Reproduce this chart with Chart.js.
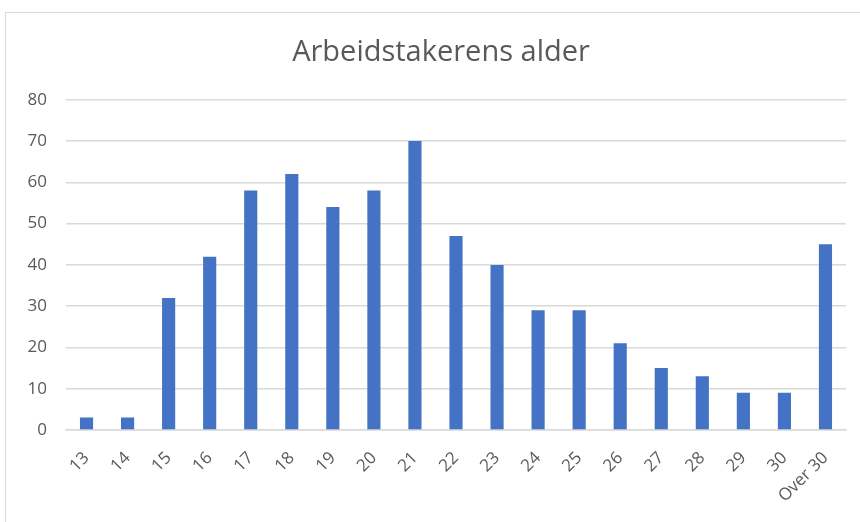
<!DOCTYPE html>
<html>
<head>
<meta charset="utf-8">
<script src="https://cdn.jsdelivr.net/npm/chart.js@4/dist/chart.umd.min.js"></script>
<style>
  body { margin: 0; background: #fff; }
  #wrap { position: relative; width: 860px; height: 522px; }
  #frame { position: absolute; left: 5px; top: 12px; width: 860px; height: 530px; border: 1px solid #d9d9d9; box-sizing: border-box; }
  canvas { position: absolute; left: 0; top: 0; }
</style>
</head>
<body>
<div id="wrap">
  <div id="frame"></div>
  <canvas id="ageChart" width="860" height="522"></canvas>
</div>
<script>
// alder-kategorier og antall
const ages = ['13', '14', '15', '16', '17', '18', '19', '20', '21', '22', '23', '24', '25', '26', '27', '28', '29', '30', 'Over 30'];
const counts = [3, 3, 32, 42, 58, 62, 54, 58, 70, 47, 40, 29, 29, 21, 15, 13, 9, 9, 45];
const yTicks = [0, 10, 20, 30, 40, 50, 60, 70, 80];

const textColor = '#595959';
const gridColor = '#d9d9d9';

// tittelen står midt på hele diagramrammen (som går litt utenfor bildet)
const titleShift = {
  id: 'titleShift',
  afterLayout(chart) {
    if (chart.titleBlock) {
      chart.titleBlock.left = 22;
      chart.titleBlock.right = 860;
    }
  }
};

new Chart(document.getElementById('ageChart'), {
  type: 'bar',
  data: {
    labels: ages,
    datasets: [{
      label: 'Antall',
      data: counts,
      backgroundColor: '#4472c4',
      barPercentage: 0.32,
      categoryPercentage: 1
    }]
  },
  options: {
    responsive: false,
    animation: false,
    layout: { padding: { left: 6, right: 14, top: 0, bottom: 10 } },
    plugins: {
      legend: { display: false },
      tooltip: { enabled: false },
      title: {
        display: true,
        text: 'Arbeidstakerens alder',
        color: textColor,
        font: { family: 'Open Sans', size: 29, weight: '400' },
        padding: { top: 35, bottom: 30 }
      }
    },
    scales: {
      x: {
        grid: { display: false },
        border: { color: gridColor, width: 1.5 },
        ticks: {
          color: textColor,
          font: { family: 'Open Sans', size: 17 },
          minRotation: 45,
          maxRotation: 45,
          padding: 10
        },
        afterFit: (scale) => { scale.height = 82; }
      },
      y: {
        min: 0,
        max: 80,
        afterBuildTicks: (scale) => { scale.ticks = yTicks.map(v => ({ value: v })); },
        grid: { color: gridColor, lineWidth: 1.5, drawTicks: false },
        border: { display: false },
        ticks: {
          color: textColor,
          font: { family: 'Open Sans', size: 17 },
          padding: 19
        },
        afterFit: (scale) => { scale.width = 60; }
      }
    }
  },
  plugins: [titleShift]
});
</script>
</body>
</html>
